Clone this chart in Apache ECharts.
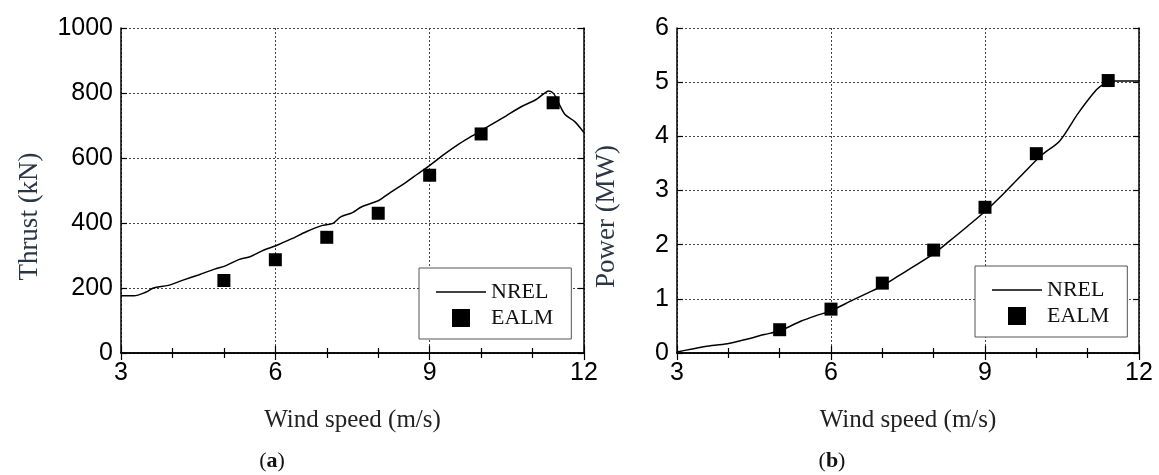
<!DOCTYPE html>
<html>
<head>
<meta charset="utf-8">
<script src="https://cdn.jsdelivr.net/npm/echarts@6/dist/echarts.min.js"></script>
<style>
html,body{margin:0;padding:0;background:#fff;}
#chart{width:1159px;height:475px;}
</style>
</head>
<body>
<div id="chart"></div>
<script>
// ---- Data ----
const xTicks = [3, 6, 9, 12];
const thrustTicks = [0, 200, 400, 600, 800, 1000];
const powerTicks = [0, 1, 2, 3, 4, 5, 6];

const nrelThrustSpeed = [3.0, 3.25, 3.48, 3.63, 3.92, 4.22, 4.52, 4.82, 5.04, 5.30, 5.52, 5.78, 6.01, 6.31, 6.60, 6.90, 7.12, 7.27, 7.50, 7.68, 7.91, 8.02, 8.24, 8.54, 8.76, 8.99, 9.28, 9.58, 9.88, 10.18, 10.48, 10.77, 11.07, 11.22, 11.31, 11.41, 11.52, 11.63, 11.82, 12.0];
const nrelThrust      = [176, 176, 187, 200, 208, 225, 241, 258, 269, 288, 297, 317, 330, 351, 373, 392, 399, 419, 432, 450, 463, 470, 494, 525, 550, 576, 611, 644, 673, 701, 729, 757, 780, 798, 806, 798, 765, 734, 712, 678];

const ealmSpeed  = [5, 6, 7, 8, 9, 10, 11.4];
const ealmThrust = [223, 287, 356, 430, 547, 674, 770];

const nrelPowerSpeed = [3.0, 3.27, 3.55, 3.98, 4.34, 4.70, 5.0, 5.42, 5.71, 6.0, 6.43, 6.72, 7.0, 7.29, 7.58, 8.01, 8.30, 8.66, 9.02, 9.38, 9.74, 10.1, 10.46, 10.81, 11.17, 11.32, 11.46, 11.68, 12.0];
const nrelPower      = [0.02, 0.07, 0.12, 0.17, 0.25, 0.34, 0.41, 0.59, 0.69, 0.78, 0.98, 1.11, 1.24, 1.41, 1.58, 1.84, 2.06, 2.34, 2.63, 2.96, 3.31, 3.65, 3.92, 4.42, 4.86, 4.97, 5.02, 5.02, 5.02];

const ealmPower = [0.43, 0.81, 1.29, 1.90, 2.69, 3.68, 5.03];

const seriesNames = ['NREL', 'EALM'];
const xTitle = 'Wind speed (m/s)';
const yTitles = ['Thrust (kN)', 'Power (MW)'];
const captions = ['a', 'b'];

// ---- Build ----
const zip = (a, b) => a.map((v, i) => [v, b[i]]);
const sans = 'Liberation Sans, Arial, sans-serif';
const serif = 'Liberation Serif, Times New Roman, serif';

const grids = [
  {left: 121, right: 575, top: 28, bottom: 122},
  {left: 677, right: 20, top: 28, bottom: 122}
];

function xAxes(gi) {
  const base = {
    type: 'value', gridIndex: gi, min: xTicks[0], max: xTicks[xTicks.length - 1], interval: 3,
    axisLine: {show: true, lineStyle: {color: '#000', width: 1.5}},
    axisTick: {show: true, inside: true, length: 7, lineStyle: {color: '#000', width: 1.2}},
    minorTick: {show: true, splitNumber: 3, length: 5, lineStyle: {color: '#000', width: 1.2}}
  };
  return [
    Object.assign({}, base, {
      position: 'bottom',
      axisLabel: {color: '#000', fontFamily: sans, fontSize: 25, margin: 8},
      splitLine: {show: true, lineStyle: {color: '#444', type: [2, 2], width: 1}},
      name: xTitle, nameLocation: 'middle', nameGap: 55,
      nameTextStyle: {fontFamily: serif, fontSize: 25, color: '#222'}
    }),
    Object.assign({}, base, {
      position: 'top', axisLabel: {show: false}, splitLine: {show: false}
    })
  ];
}

function yAxes(gi, ticks, name, gap) {
  const base = {
    type: 'value', gridIndex: gi, min: ticks[0], max: ticks[ticks.length - 1], interval: ticks[1] - ticks[0],
    axisLine: {show: true, lineStyle: {color: '#000', width: 1.5}},
    axisTick: {show: true, inside: true, length: 6, lineStyle: {color: '#000', width: 1.2}}
  };
  return [
    Object.assign({}, base, {
      position: 'left',
      axisLabel: {color: '#000', fontFamily: sans, fontSize: 25, margin: 8, formatter: v => String(v)},
      splitLine: {show: true, lineStyle: {color: '#444', type: [2, 2], width: 1}},
      name: name, nameLocation: 'middle', nameGap: gap, nameRotate: 90,
      nameTextStyle: {fontFamily: serif, fontSize: 27, color: '#2b3744', padding: [0, 52, 0, 0]}
    }),
    Object.assign({}, base, {
      position: 'right', axisLabel: {show: false}, splitLine: {show: false}
    })
  ];
}

const squareIcon = 'path://M0,0H10V10H0Z';
const lineIcon = 'path://M0,0H50V1.6H0Z';

function legend(left, top) {
  return {
    left: left, top: top, orient: 'vertical',
    data: [{name: seriesNames[0], icon: lineIcon}, {name: seriesNames[1], icon: squareIcon}],
    itemWidth: 50, itemHeight: 18, itemGap: 4,
    symbolKeepAspect: true,
    padding: [13, 18, 10, 17],
    borderColor: '#555', borderWidth: 1, backgroundColor: '#fff',
    textStyle: {fontFamily: serif, fontSize: 22, color: '#111'},
    selectedMode: false
  };
}

const captionRich = {p: {fontFamily: serif, fontSize: 22, fill: '#111'}, b: {fontFamily: serif, fontSize: 22, fontWeight: 'bold', fill: '#111'}};

const option = {
  backgroundColor: '#fff',
  animation: false,
  grid: grids,
  xAxis: [].concat(xAxes(0), xAxes(1)),
  yAxis: [].concat(yAxes(0, thrustTicks, yTitles[0], 78), yAxes(1, powerTicks, yTitles[1], 57)),
  legend: [legend(419, 268), legend(975, 266)],
  series: [
    {name: seriesNames[0], type: 'line', xAxisIndex: 0, yAxisIndex: 0, data: zip(nrelThrustSpeed, nrelThrust),
     symbol: 'none', smooth: 0.3, lineStyle: {color: '#000', width: 1.5}, itemStyle: {color: '#000'}, z: 3},
    {name: seriesNames[1], type: 'scatter', xAxisIndex: 0, yAxisIndex: 0, data: zip(ealmSpeed, ealmThrust),
     symbol: 'rect', symbolSize: 13, itemStyle: {color: '#000', opacity: 1}, z: 4},
    {name: seriesNames[0], type: 'line', xAxisIndex: 2, yAxisIndex: 2, data: zip(nrelPowerSpeed, nrelPower),
     symbol: 'none', smooth: 0.3, lineStyle: {color: '#000', width: 1.5}, itemStyle: {color: '#000'}, z: 3},
    {name: seriesNames[1], type: 'scatter', xAxisIndex: 2, yAxisIndex: 2, data: zip(ealmSpeed, ealmPower),
     symbol: 'rect', symbolSize: 13, itemStyle: {color: '#000', opacity: 1}, z: 4}
  ],
  graphic: [
    {type: 'text', x: 272, y: 461, style: {text: '{p|(}{b|' + captions[0] + '}{p|)}', textAlign: 'center', textVerticalAlign: 'middle', rich: captionRich}},
    {type: 'text', x: 832, y: 461, style: {text: '{p|(}{b|' + captions[1] + '}{p|)}', textAlign: 'center', textVerticalAlign: 'middle', rich: captionRich}}
  ]
};

echarts.init(document.getElementById('chart'), null, {renderer: 'canvas'}).setOption(option);
</script>
</body>
</html>
